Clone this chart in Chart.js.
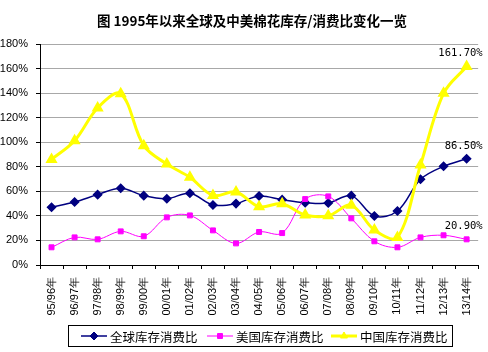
<!DOCTYPE html>
<html>
<head>
<meta charset="utf-8">
<title>棉花库存消费比</title>
<script src="https://cdn.jsdelivr.net/npm/chart.js@4/dist/chart.umd.min.js"></script>
<style>
  body { margin: 0; background: #fff; }
  canvas { display: block; }
</style>
</head>
<body>
<canvas id="chart" width="488" height="352"></canvas>
<script>
const seasons = ["95/96年", "96/97年", "97/98年", "98/99年", "99/00年", "00/01年", "01/02年", "02/03年", "03/04年", "04/05年",
  "05/06年", "06/07年", "07/08年", "08/09年", "09/10年", "10/11年", "11/12年", "12/13年", "13/14年"];
const worldRatio = [47, 51.3, 57.3, 62.5, 56.5, 54, 58.4, 48.9, 50, 56.2, 53.2, 50.8, 50.5, 56.5, 39.9, 44, 69.8, 80.4, 86.5];
const usRatio = [14.4, 22.5, 20.9, 27.4, 23.4, 38.8, 40.4, 28.2, 17.6, 26.9, 26, 53.7, 55.9, 38, 19.3, 14.4, 22.5, 24.2, 20.9];
const chinaRatio = [86, 101.2, 127.9, 139.5, 97.2, 82.2, 71.4, 56.7, 59.4, 47.5, 49.9, 40.7, 40.1, 48.6, 28.5, 22.5, 81.4, 139.8, 161.7];
const seriesNames = ["全球库存消费比", "美国库存消费比", "中国库存消费比"];
const endLabels = ["86.50%", "20.90%", "161.70%"];
const chartTitle = "图 1995年以来全球及中美棉花库存/消费比变化一览";

const tickFont = { family: "'Liberation Sans', Arial, sans-serif", size: 11 };

// title drawn by hand so it sits where the original one does
const titlePlugin = {
  id: "titleText",
  beforeDraw(chart) {
    const ctx = chart.ctx;
    ctx.save();
    ctx.font = "bold 13.5px 'Noto Sans CJK SC', sans-serif";
    ctx.fillStyle = "#000";
    ctx.textAlign = "center";
    ctx.textBaseline = "middle";
    ctx.fillText(chartTitle, 252, 21);
    ctx.restore();
  }
};

// labels for the last season of every series
const endLabelPlugin = {
  id: "endLabels",
  afterDatasetsDraw(chart) {
    const ctx = chart.ctx;
    const last = seasons.length - 1;
    ctx.save();
    ctx.font = "10.5px 'DejaVu Sans Mono', monospace";
    ctx.fillStyle = "#000";
    ctx.textAlign = "right";
    ctx.textBaseline = "middle";
    chart.data.datasets.forEach((ds, i) => {
      const pt = chart.getDatasetMeta(i).data[last];
      ctx.fillText(endLabels[i], pt.x + 16, pt.y - 13);
    });
    ctx.restore();
  }
};

// excel style legend: line + marker + name, inside a box
const legendBoxPlugin = {
  id: "legendBox",
  afterDraw(chart) {
    const ctx = chart.ctx;
    const starts = [81, 207, 331];
    const y = 336;
    ctx.save();
    ctx.strokeStyle = "#000";
    ctx.lineWidth = 1;
    ctx.strokeRect(68.5, 325.5, 384, 21);
    ctx.font = "12.5px 'Noto Sans CJK SC', sans-serif";
    ctx.textBaseline = "middle";
    chart.data.datasets.forEach((ds, i) => {
      const x = starts[i];
      ctx.strokeStyle = ds.borderColor;
      ctx.lineWidth = ds.borderWidth;
      ctx.beginPath();
      ctx.moveTo(x, y);
      ctx.lineTo(x + 26, y);
      ctx.stroke();
      ctx.fillStyle = ds.pointBackgroundColor;
      ctx.strokeStyle = ds.pointBorderColor;
      ctx.lineWidth = 1;
      Chart.helpers.drawPoint(ctx, { pointStyle: ds.pointStyle, radius: ds.pointRadius, borderWidth: 1, rotation: 0 }, x + 13, y);
      ctx.fillStyle = "#000";
      ctx.fillText(seriesNames[i], x + 29, y + 1);
    });
    ctx.restore();
  }
};

const data = {
  labels: seasons,
  datasets: [
    {
      label: seriesNames[0],
      data: worldRatio,
      borderColor: "#000080",
      borderWidth: 1.5,
      pointStyle: "rectRot",
      pointRadius: 4,
      pointBackgroundColor: "#000080",
      pointBorderColor: "#000080",
      tension: 0.35,
      order: 3,
    },
    {
      label: seriesNames[1],
      data: usRatio,
      borderColor: "#FF00FF",
      borderWidth: 1,
      pointStyle: "rect",
      pointRadius: 3.5,
      pointBackgroundColor: "#FF00FF",
      pointBorderColor: "#FF00FF",
      tension: 0.35,
      order: 2,
    },
    {
      label: seriesNames[2],
      data: chinaRatio,
      borderColor: "#FFFF00",
      borderWidth: 3,
      pointStyle: "triangle",
      pointRadius: 4,
      pointBackgroundColor: "#FFFF00",
      pointBorderColor: "#FFFF00",
      tension: 0.35,
      order: 1,
    },
  ],
};

const config = {
  type: "line",
  data,
  plugins: [titlePlugin, endLabelPlugin, legendBoxPlugin],
  options: {
    responsive: false,
    animation: false,
    devicePixelRatio: 1,
    layout: { padding: { top: 44, right: 4, bottom: 0, left: 0 } },
    plugins: {
      legend: { display: false },
      tooltip: { enabled: false },
      title: { display: false },
    },
    scales: {
      x: {
        offset: true,
        grid: { offset: true, drawOnChartArea: false, drawTicks: true, tickLength: 4, tickColor: "#000" },
        border: { color: "#000", width: 1 },
        ticks: { color: "#000", font: tickFont, minRotation: 90, maxRotation: 90, padding: 8, autoSkip: false },
        afterFit(scale) { scale.height = 87; },
      },
      y: {
        min: 0,
        max: 180,
        grid: { color: "#a8a8a8", tickLength: 4, tickColor: "#000" },
        border: { color: "#000", width: 1 },
        ticks: { stepSize: 20, color: "#000", font: tickFont, padding: 8, callback: (v) => v + "%" },
        afterFit(scale) { scale.width = 40; },
      },
    },
  },
};

new Chart(document.getElementById("chart"), config);
</script>
</body>
</html>
